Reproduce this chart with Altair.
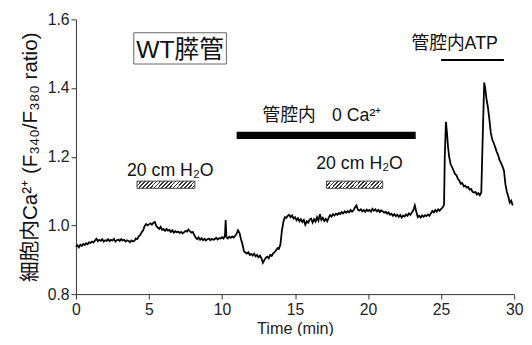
import altair as alt
import pandas as pd

# ---- trace (time in min, Fura-2 ratio) ----
t = [0.0, 0.1, 0.2, 0.3, 0.4, 0.5, 0.6, 0.7, 0.8, 0.9, 1.0,
     1.1, 1.2, 1.3, 1.4, 1.5, 1.6, 1.7, 1.8, 1.9, 2.0,
     2.1, 2.2, 2.3, 2.4, 2.5, 2.6, 2.7, 2.8, 2.9, 3.0,
     3.1, 3.2, 3.3, 3.4, 3.5, 3.6, 3.7, 3.8, 3.9, 4.0,
     4.1, 4.2, 4.3, 4.4, 4.5, 4.6, 4.7, 4.8, 4.9, 5.0,
     5.1, 5.2, 5.3, 5.4, 5.5, 5.6, 5.7, 5.8, 5.9, 6.0,
     6.1, 6.2, 6.3, 6.4, 6.5, 6.6, 6.7, 6.8, 6.9, 7.0,
     7.1, 7.2, 7.3, 7.4, 7.5, 7.6, 7.7, 7.8, 7.9, 8.0,
     8.1, 8.2, 8.3, 8.4, 8.5, 8.6, 8.7, 8.8, 8.9, 9.0,
     9.1, 9.2, 9.3, 9.4, 9.5, 9.6, 9.7, 9.8, 9.9, 10.0,
     10.1, 10.2, 10.25, 10.3, 10.4, 10.5, 10.6, 10.7, 10.8, 10.9, 11.0,
     11.1, 11.2, 11.3, 11.4, 11.5, 11.6, 11.7, 11.8, 11.9, 12.0,
     12.1, 12.2, 12.3, 12.4, 12.5, 12.6, 12.7, 12.8, 12.9, 13.0,
     13.1, 13.2, 13.3, 13.4, 13.5, 13.6, 13.7, 13.8, 13.9, 14.0,
     14.1, 14.2, 14.3, 14.4, 14.5, 14.6, 14.7, 14.8, 14.9, 15.0,
     15.1, 15.2, 15.3, 15.4, 15.5, 15.6, 15.7, 15.8, 15.9, 16.0,
     16.1, 16.2, 16.3, 16.4, 16.5, 16.6, 16.7, 16.8, 16.9, 17.0,
     17.1, 17.2, 17.3, 17.4, 17.5, 17.6, 17.7, 17.8, 17.9, 18.0,
     18.1, 18.2, 18.3, 18.4, 18.5, 18.6, 18.7, 18.8, 18.9, 19.0,
     19.1, 19.2, 19.3, 19.4, 19.5, 19.6, 19.7, 19.8, 19.9, 20.0,
     20.1, 20.2, 20.3, 20.4, 20.5, 20.6, 20.7, 20.8, 20.9, 21.0,
     21.1, 21.2, 21.3, 21.4, 21.5, 21.6, 21.7, 21.8, 21.9, 22.0,
     22.1, 22.2, 22.3, 22.4, 22.5, 22.6, 22.7, 22.8, 22.9, 23.0,
     23.1, 23.2, 23.3, 23.4, 23.5, 23.6, 23.7, 23.8, 23.9, 24.0,
     24.1, 24.2, 24.3, 24.4, 24.5, 24.6, 24.7, 24.8, 24.9, 25.0,
     25.1, 25.2, 25.25, 25.33, 25.4, 25.47, 25.55, 25.65, 25.75, 25.85, 25.95,
     26.05, 26.15, 26.25, 26.35, 26.45, 26.55, 26.65, 26.75, 26.85, 26.95,
     27.05, 27.15, 27.25, 27.35, 27.45, 27.55, 27.65, 27.75, 27.85, 27.95,
     28.02, 28.1, 28.2, 28.3, 28.4, 28.5, 28.6, 28.7, 28.8, 28.9,
     29.0, 29.1, 29.2, 29.3, 29.4, 29.5, 29.6, 29.7, 29.8, 29.9]
v = [0.938, 0.942, 0.936, 0.944, 0.940, 0.946, 0.943, 0.948, 0.945, 0.951, 0.949,
     0.953, 0.950, 0.956, 0.961, 0.954, 0.958, 0.955, 0.960, 0.953, 0.957,
     0.955, 0.960, 0.954, 0.958, 0.956, 0.961, 0.953, 0.957, 0.959, 0.955,
     0.960, 0.956, 0.958, 0.953, 0.957, 0.955, 0.951, 0.956, 0.953, 0.955,
     0.962, 0.960, 0.968, 0.972, 0.980, 0.986, 0.998, 1.004, 1.000, 1.003,
     1.006, 1.002, 1.008, 1.010, 0.998, 0.994, 0.990, 0.996, 0.987, 0.989,
     0.984, 0.990, 0.985, 0.987, 0.981, 0.986, 0.979, 0.983, 0.980, 0.982,
     0.978, 0.981, 0.977, 0.980, 0.984, 0.982, 0.988, 0.983, 0.979, 0.981,
     0.972, 0.964, 0.960, 0.965, 0.958, 0.963, 0.957, 0.961, 0.956, 0.960,
     0.962, 0.957, 0.961, 0.958, 0.960, 0.964, 0.959, 0.963, 0.962, 0.966,
     0.962, 0.970, 1.016, 0.966, 0.962, 0.967, 0.964, 0.968, 0.965, 0.970, 0.976,
     0.986, 0.978, 0.960, 0.945, 0.925, 0.921, 0.918, 0.922, 0.914, 0.917,
     0.912, 0.918, 0.910, 0.914, 0.907, 0.912, 0.904, 0.891, 0.899, 0.906,
     0.909, 0.904, 0.914, 0.911, 0.919, 0.922, 0.928, 0.934, 0.932, 0.945,
     0.985, 1.010, 1.024, 1.022, 1.028, 1.031, 1.024, 1.029, 1.020, 1.024,
     1.015, 1.021, 1.012, 1.018, 1.010, 1.016, 1.002, 1.012, 1.008, 1.017,
     1.020, 1.008, 1.018, 1.011, 1.024, 1.014, 1.033, 1.016, 1.022, 1.013,
     1.019, 1.012, 1.022, 1.030, 1.026, 1.033, 1.029, 1.034, 1.031, 1.036,
     1.033, 1.039, 1.035, 1.041, 1.037, 1.042, 1.038, 1.045, 1.040, 1.044,
     1.052, 1.058, 1.046, 1.043, 1.047, 1.041, 1.045, 1.040, 1.046, 1.042,
     1.045, 1.040, 1.048, 1.043, 1.047, 1.041, 1.045, 1.039, 1.044, 1.041,
     1.037, 1.040, 1.034, 1.038, 1.031, 1.034, 1.028, 1.033, 1.027, 1.031,
     1.025, 1.030, 1.023, 1.029, 1.026, 1.032, 1.028, 1.035, 1.031, 1.038,
     1.044, 1.058, 1.040, 1.024, 1.028, 1.023, 1.029, 1.025, 1.030, 1.027,
     1.032, 1.028, 1.035, 1.042, 1.038, 1.045, 1.040, 1.047, 1.043, 1.048,
     1.052, 1.060, 1.200, 1.302, 1.270, 1.230, 1.200, 1.178, 1.170, 1.160, 1.150,
     1.146, 1.136, 1.130, 1.121, 1.123, 1.114, 1.116, 1.110, 1.112, 1.104,
     1.106, 1.098, 1.096, 1.097, 1.090, 1.094, 1.088, 1.096, 1.260, 1.416,
     1.400, 1.370, 1.345, 1.310, 1.270, 1.250, 1.240, 1.228, 1.215, 1.205,
     1.190, 1.182, 1.172, 1.160, 1.120, 1.098, 1.084, 1.066, 1.072, 1.058]

# ---- annotation bars ----
ca_bar_t = [11.0]
ca_bar_t2 = [23.26]
ca_bar_v = [1.252]
ca_bar_v2 = [1.273]

h2o_t = [4.18, 17.15]
h2o_t2 = [8.14, 21.0]
h2o_v = [1.108, 1.108]
h2o_v2 = [1.129, 1.129]

atp_t = [25.0]
atp_t2 = [29.3]
atp_v = [1.482]

box_t = [3.96]
box_t2 = [10.30]
box_v = [1.470]
box_v2 = [1.561]

# ---- annotation texts ----
title_label = ["WT膵管"]
title_t = [7.13]
title_v = [1.487]

note_labels = ["20 cm H₂O", "20 cm H₂O", "管腔内", "0 Ca²⁺", "管腔内ATP"]
note_t = [3.49, 16.45, 12.77, 17.53, 22.97]
note_v = [1.143, 1.163, 1.305, 1.305, 1.514]

x_ticks = [0, 5, 10, 15, 20, 25, 30]
y_ticks = [0.8, 1.0, 1.2, 1.4, 1.6]

FONT = "Liberation Sans, Noto Sans CJK JP, sans-serif"

xs = alt.Scale(domain=[0, 30], nice=False, zero=False)
ys = alt.Scale(domain=[0.8, 1.6], nice=False, zero=False)

xaxis = alt.Axis(values=x_ticks, title="Time (min)", grid=False, tickSize=5,
                 labelFontSize=16, titleFontSize=16.5, titleFontWeight="normal",
                 labelPadding=3, titlePadding=3, domainColor="#333", tickColor="#333",
                 labelColor="#222", titleColor="#222", labelFont=FONT, titleFont=FONT,
                 labelFlush=False)
yaxis = alt.Axis(values=y_ticks, format=".1f", title="細胞内Ca²⁺ (F₃₄₀/F₃₈₀ ratio)",
                 grid=False, tickSize=5, labelFontSize=16, titleFontSize=21,
                 titleFontWeight="normal", labelPadding=2, titlePadding=7,
                 domainColor="#333", tickColor="#333", labelColor="#222",
                 titleColor="#111", labelFont=FONT, titleFont=FONT, labelFlush=False)

X = alt.X("t:Q", scale=xs, axis=xaxis)
Y = alt.Y("v:Q", scale=ys, axis=yaxis)

trace = pd.DataFrame({"t": t, "v": v})
line = alt.Chart(trace).mark_line(color="black", strokeWidth=1.8).encode(x=X, y=Y)

ca_df = pd.DataFrame({"t": ca_bar_t, "t2": ca_bar_t2, "v": ca_bar_v, "v2": ca_bar_v2})
ca_bar = alt.Chart(ca_df).mark_rect(color="black").encode(
    x=X, x2="t2:Q", y=Y, y2="v2:Q")

# diagonal hatch via hard-stop linear gradient
n = 17
stops = []
for i in range(n):
    stops.append({"offset": i / n, "color": "#333333"})
    stops.append({"offset": (i + 0.42) / n, "color": "#333333"})
    stops.append({"offset": (i + 0.42) / n, "color": "#ffffff"})
    stops.append({"offset": (i + 1) / n, "color": "#ffffff"})
hatch = {"gradient": "linear", "x1": 0, "y1": 0, "x2": 1.103, "y2": 0.131, "stops": stops}

h_df = pd.DataFrame({"t": h2o_t, "t2": h2o_t2, "v": h2o_v, "v2": h2o_v2})
h_bars = alt.Chart(h_df).mark_rect(fill=hatch, stroke="#444444", strokeWidth=1).encode(
    x=X, x2="t2:Q", y=Y, y2="v2:Q")

atp_df = pd.DataFrame({"t": atp_t, "t2": atp_t2, "v": atp_v})
atp_line = alt.Chart(atp_df).mark_rule(color="black", strokeWidth=2).encode(
    x=X, x2="t2:Q", y=Y)

box_df = pd.DataFrame({"t": box_t, "t2": box_t2, "v": box_v, "v2": box_v2})
box = alt.Chart(box_df).mark_rect(fill="white", stroke="#666666", strokeWidth=1).encode(
    x=X, x2="t2:Q", y=Y, y2="v2:Q")

title_df = pd.DataFrame({"t": title_t, "v": title_v, "label": title_label})
title_txt = alt.Chart(title_df).mark_text(font=FONT, fontSize=25, align="center",
                                          baseline="alphabetic", color="#111").encode(
    x=X, y=Y, text="label:N")

note_df = pd.DataFrame({"t": note_t, "v": note_v, "label": note_labels})
note_txt = alt.Chart(note_df).mark_text(font=FONT, fontSize=18, align="left",
                                        baseline="alphabetic", color="#111").encode(
    x=X, y=Y, text="label:N")

chart = alt.layer(line, ca_bar, h_bars, atp_line, box, title_txt, note_txt).properties(
    width=445, height=279,
    padding={"left": 69, "top": 9, "right": 10, "bottom": 40},
    autosize=alt.AutoSizeParams(type="none"),
    background="white",
).configure_view(stroke=None)

chart.save("out.html", embed_options={"renderer": "svg", "actions": False})
